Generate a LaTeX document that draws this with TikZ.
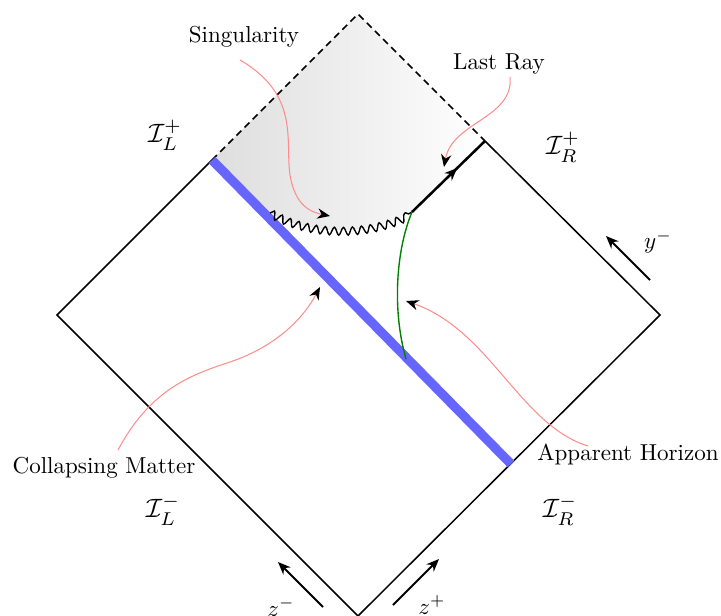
\documentclass[tikz,border=0pt]{standalone}
\usetikzlibrary{arrows.meta,decorations.pathmorphing,decorations.markings}
\begin{document}
\begin{tikzpicture}[x=0.434pt,y=-0.434pt,
  edge/.style={line width=0.65pt,black},
  nullray/.style={line width=0.65pt,dash pattern=on 3pt off 2pt},
  matter/.style={line width=4pt,blue!60},
  sing/.style={line width=0.6pt,decorate,decoration={snake,amplitude=1.7pt,segment length=4pt}},
  lastray/.style={line width=1.1pt,decoration={markings,mark=at position 0.62 with {\arrow{Stealth[length=5.5pt,width=4.5pt]}}},postaction={decorate}},
  horizon/.style={line width=0.6pt,green!50!black},
  pointer/.style={red!45,line width=0.45pt,-{Stealth[length=5.5pt,width=4.5pt,color=black]}},
  coordarrow/.style={line width=0.9pt,-{Stealth[length=5.5pt,width=4.5pt]}},
  lbl/.style={inner sep=1pt},
  scri/.style={inner sep=1pt,scale=1.15}
]
\useasboundingbox (0,0) rectangle (721,615);
% key points
\coordinate (L) at (57,315);
\coordinate (T) at (358,14);
\coordinate (R) at (660,315);
\coordinate (B) at (358,616);
\coordinate (A) at (212,160);
\coordinate (E) at (511,464);
\coordinate (D) at (485,141);
\coordinate (H) at (412,212);
\coordinate (W) at (270,213);
\coordinate (G) at (406,359);
% shaded region
\shade[left color=black!13,right color=white] (A) -- (T) -- (D) -- (H) .. controls (370,236) and (310,236) .. (W) -- cycle;
% boundary
\draw[nullray] (A) -- (T) -- (D);
\draw[edge] (A) -- (L) -- (B) -- (R) -- (D);
% collapsing matter
\draw[matter] (A) -- (E);
% singularity
\draw[sing] (W) .. controls (310,236) and (370,236) .. (H);
% last ray
\draw[lastray] (H) -- (D);
% apparent horizon
\draw[horizon] (H) .. controls (396,250) and (392,310) .. (G);
% labels
\node[lbl] (nsing) at (244,37) {Singularity};
\node[lbl] (nlast) at (499,64) {Last Ray};
\node[lbl] (ncoll) at (104,468) {Collapsing Matter};
\node[lbl] (nhor) at (628,454) {Apparent Horizon};
\node[scri] (ILp) at (165,135) {$\mathcal{I}_L^+$};
\node[scri] (IRp) at (563,147) {$\mathcal{I}_R^+$};
\node[scri] (ILm) at (163,510) {$\mathcal{I}_L^-$};
\node[scri] (IRm) at (560,510) {$\mathcal{I}_R^-$};
% pointers
\coordinate (ps) at (240,60);
\coordinate (pst) at (330,216);
\draw[pointer] (ps) .. controls (300,95) and (285,140) .. (290,175) .. controls (295,205) and (310,212) .. (pst);
\coordinate (pl) at (510,77);
\coordinate (plt) at (444,167);
\draw[pointer] (pl) .. controls (514,118) and (452,122) .. (plt);
\coordinate (pc) at (118,450);
\coordinate (pct) at (320,287);
\draw[pointer] (pc) .. controls (150,390) and (190,375) .. (230,362) .. controls (280,345) and (305,315) .. (pct);
\coordinate (ph) at (588,446);
\coordinate (pht) at (406,301);
\draw[pointer] (ph) .. controls (520,425) and (490,330) .. (pht);
% coordinate arrows
\coordinate (y1) at (650,280);
\coordinate (y2) at (606,236);
\draw[coordarrow] (y1) -- (y2);
\node[lbl] (ylab) at (658,242) {$y^-$};
\coordinate (zm1) at (323,607);
\coordinate (zm2) at (278,562);
\draw[coordarrow] (zm1) -- (zm2);
\node[lbl] (zmlab) at (281,607) {$z^-$};
\coordinate (zp1) at (393,605);
\coordinate (zp2) at (439,559);
\draw[coordarrow] (zp1) -- (zp2);
\node[lbl] (zplab) at (432,605) {$z^+$};
\end{tikzpicture}
\end{document}
